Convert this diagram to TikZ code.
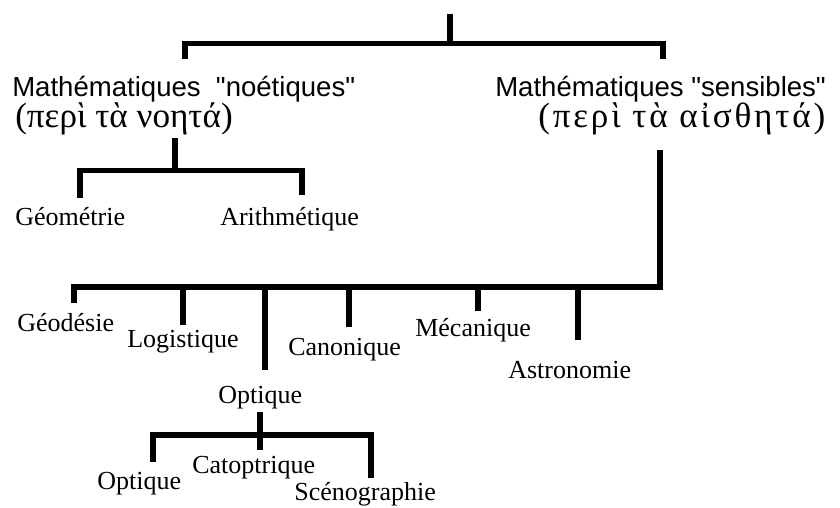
\documentclass[tikz,border=0pt]{standalone}
\usepackage{fontspec}
\setmainfont{Liberation Serif}
\newfontfamily\headfont{Liberation Sans}[Ligatures=TeXOff]

\begin{document}
\begin{tikzpicture}[
			x=0.025cm, y=-0.025cm,
			bar/.style={line width=3.7pt},
			branch/.style={anchor=base west, inner sep=0pt,
					font=\headfont\fontsize{19.6}{22}\selectfont},
			greek/.style={anchor=base west, inner sep=0pt,
					font=\fontsize{25}{28}\selectfont},
			leaf/.style={anchor=base west, inner sep=0pt,
					font=\fontsize{18.5}{22}\selectfont},
		]
		\useasboundingbox (0,0) rectangle (840,507);

		\node (noe)    [branch] at (12, 96)   {Mathématiques\ \ "noétiques"};
		\node (noegr)  [greek]  at (15, 127)  {(περὶ τὰ νοητά)};
		\node (sens)   [branch] at (495, 96)  {Mathématiques "sensibles"};
		\node (sensgr) [greek]  at (538, 127)
		{\addfontfeature{LetterSpace=8}(περὶ τὰ αἰσθητά)};

		\node (geom)  [leaf] at (15, 225)  {Géométrie};
		\node (arith) [leaf] at (220, 225) {Arithmétique};

		\node (geod)  [leaf] at (17, 331)  {Géodésie};
		\node (logi)  [leaf] at (127, 347) {Logistique};
		\node (optm)  [leaf] at (218, 403) {Optique};
		\node (cano)  [leaf] at (288, 355) {Canonique};
		\node (meca)  [leaf] at (415, 336) {Mécanique};
		\node (astro) [leaf] at (508, 378) {Astronomie};

		\node (opt)   [leaf] at (97, 489)  {Optique};
		\node (cata)  [leaf] at (192, 473) {Catoptrique};
		\node (sceno) [leaf] at (294, 500) {Scénographie};

		% ends of the bars
		\coordinate (root)    at (450, 14);
		\coordinate (j0)      at (450, 43.5);
		\coordinate (noetop)  at (185, 59);
		\coordinate (senstop) at (663, 59);
		\coordinate (noebot)  at (175, 138);
		\coordinate (j1)      at (175, 170.5);
		\coordinate (geomtop) at (80, 198);
		\coordinate (arithtop) at (302, 195);
		\coordinate (sensbot) at (660, 150);
		\coordinate (j2)      at (265, 287);
		\coordinate (geodtop) at (74, 303);
		\coordinate (logitop) at (183, 325);
		\coordinate (optmtop) at (265, 370);
		\coordinate (canotop) at (349, 327);
		\coordinate (mecatop) at (478, 311);
		\coordinate (astrotop) at (578, 340);
		\coordinate (optmbot) at (260, 412);
		\coordinate (j3)      at (260, 435);
		\coordinate (catatop) at (260, 450);
		\coordinate (opttop)  at (153, 462);
		\coordinate (scenotop) at (371, 478);

		% mathematiques -> noetiques / sensibles
		\draw [bar] (root) -- (j0);
		\draw [bar] (noetop) |- (j0) -| (senstop);
		% noetiques -> geometrie / arithmetique
		\draw [bar] (noebot) -- (j1);
		\draw [bar] (geomtop) |- (j1) -| (arithtop);
		% sensibles -> six branches
		\draw [bar] (sensbot) |- (j2) -| (geodtop);
		\draw [bar] (j2) -- (optmtop);
		\draw [bar] (logitop |- j2) -- (logitop);
		\draw [bar] (canotop |- j2) -- (canotop);
		\draw [bar] (mecatop |- j2) -- (mecatop);
		\draw [bar] (astrotop |- j2) -- (astrotop);
		% optique -> optique / catoptrique / scenographie
		\draw [bar] (optmbot) -- (catatop);
		\draw [bar] (opttop) |- (j3) -| (scenotop);
	\end{tikzpicture}
\end{document}
